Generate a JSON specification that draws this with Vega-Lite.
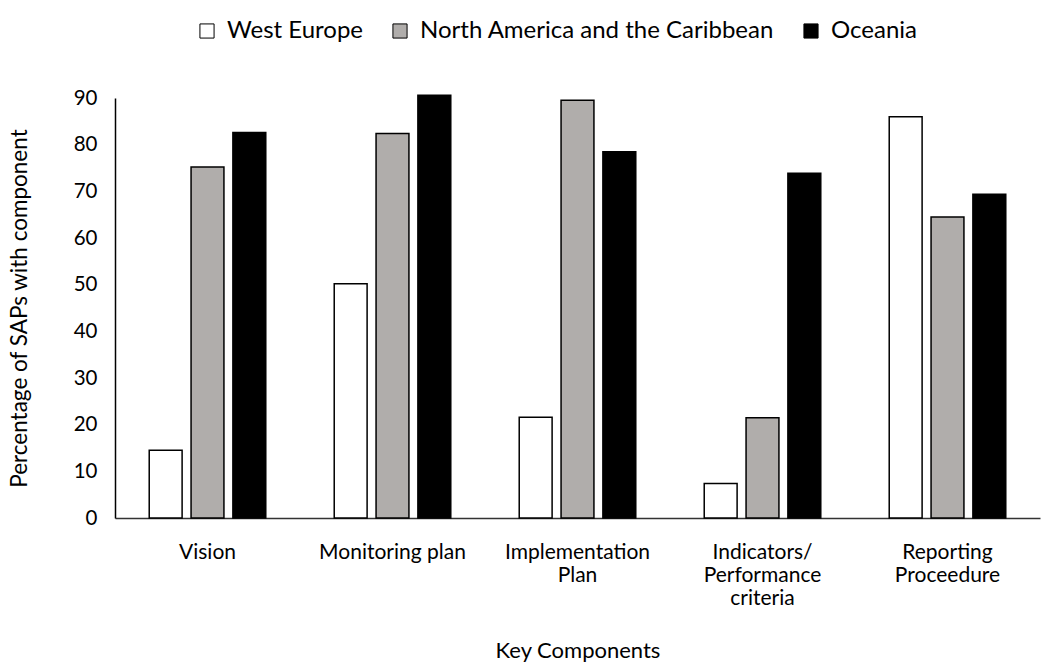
{
  "$schema": "https://vega.github.io/schema/vega-lite/v6.json",
  "width": 925,
  "height": 420,
  "autosize": "none",
  "padding": {"left": 115, "top": 98, "right": 2, "bottom": 152},
  "background": "white",
  "config": {
    "font": "Lato",
    "view": {"stroke": null},
    "axis": {"grid": false, "ticks": false, "labelColor": "black", "titleColor": "black", "titleFontWeight": "normal"}
  },
  "data": {
    "values": [
      {"component": "Vision", "region": "West Europe", "pct": 14.5},
      {"component": "Vision", "region": "North America and the Caribbean", "pct": 75.2},
      {"component": "Vision", "region": "Oceania", "pct": 82.6},
      {"component": "Monitoring plan", "region": "West Europe", "pct": 50.2},
      {"component": "Monitoring plan", "region": "North America and the Caribbean", "pct": 82.4},
      {"component": "Monitoring plan", "region": "Oceania", "pct": 90.6},
      {"component": "Implementation Plan", "region": "West Europe", "pct": 21.6},
      {"component": "Implementation Plan", "region": "North America and the Caribbean", "pct": 89.5},
      {"component": "Implementation Plan", "region": "Oceania", "pct": 78.5},
      {"component": "Indicators/ Performance criteria", "region": "West Europe", "pct": 7.4},
      {"component": "Indicators/ Performance criteria", "region": "North America and the Caribbean", "pct": 21.5},
      {"component": "Indicators/ Performance criteria", "region": "Oceania", "pct": 73.9},
      {"component": "Reporting Proceedure", "region": "West Europe", "pct": 86.0},
      {"component": "Reporting Proceedure", "region": "North America and the Caribbean", "pct": 64.5},
      {"component": "Reporting Proceedure", "region": "Oceania", "pct": 69.4}
    ]
  },
  "mark": {"type": "bar", "stroke": "black", "strokeWidth": 1.5, "clip": false},
  "encoding": {
    "x": {
      "field": "component",
      "type": "nominal",
      "sort": ["Vision", "Monitoring plan", "Implementation Plan", "Indicators/ Performance criteria", "Reporting Proceedure"],
      "scale": {"paddingInner": 0.37, "paddingOuter": 0.185},
      "axis": {
        "title": "Key Components",
        "titleFontSize": 22,
        "titlePadding": 32,
        "labelFontSize": 21,
        "labelAngle": 0,
        "labelPadding": 23,
        "labelLineHeight": 23,
        "labelExpr": "datum.label == 'Implementation Plan' ? ['Implementation', 'Plan'] : datum.label == 'Indicators/ Performance criteria' ? ['Indicators/', 'Performance', 'criteria'] : datum.label == 'Reporting Proceedure' ? ['Reporting', 'Proceedure'] : datum.label",
        "domainColor": "#333333",
        "domainWidth": 1.5
      }
    },
    "xOffset": {
      "field": "region",
      "sort": ["West Europe", "North America and the Caribbean", "Oceania"],
      "scale": {"paddingInner": 0.214}
    },
    "y": {
      "field": "pct",
      "type": "quantitative",
      "scale": {"domain": [0, 90]},
      "axis": {
        "title": "Percentage of SAPs with component",
        "titleFontSize": 22.5,
        "titlePadding": 42,
        "labelFontSize": 20.5,
        "labelPadding": 18,
        "values": [0, 10, 20, 30, 40, 50, 60, 70, 80, 90],
        "domainColor": "black",
        "domainWidth": 1.5
      }
    },
    "color": {
      "field": "region",
      "type": "nominal",
      "scale": {
        "domain": ["West Europe", "North America and the Caribbean", "Oceania"],
        "range": ["white", "#b0adab", "black"]
      },
      "legend": {
        "title": null,
        "orient": "none",
        "direction": "horizontal",
        "legendX": 80,
        "legendY": -79,
        "symbolType": "square",
        "symbolSize": 200,
        "symbolStrokeColor": "black",
        "symbolStrokeWidth": 1,
        "labelFontSize": 24,
        "labelColor": "black",
        "labelLimit": 0,
        "columnPadding": 24,
        "labelOffset": 8
      }
    }
  }
}
